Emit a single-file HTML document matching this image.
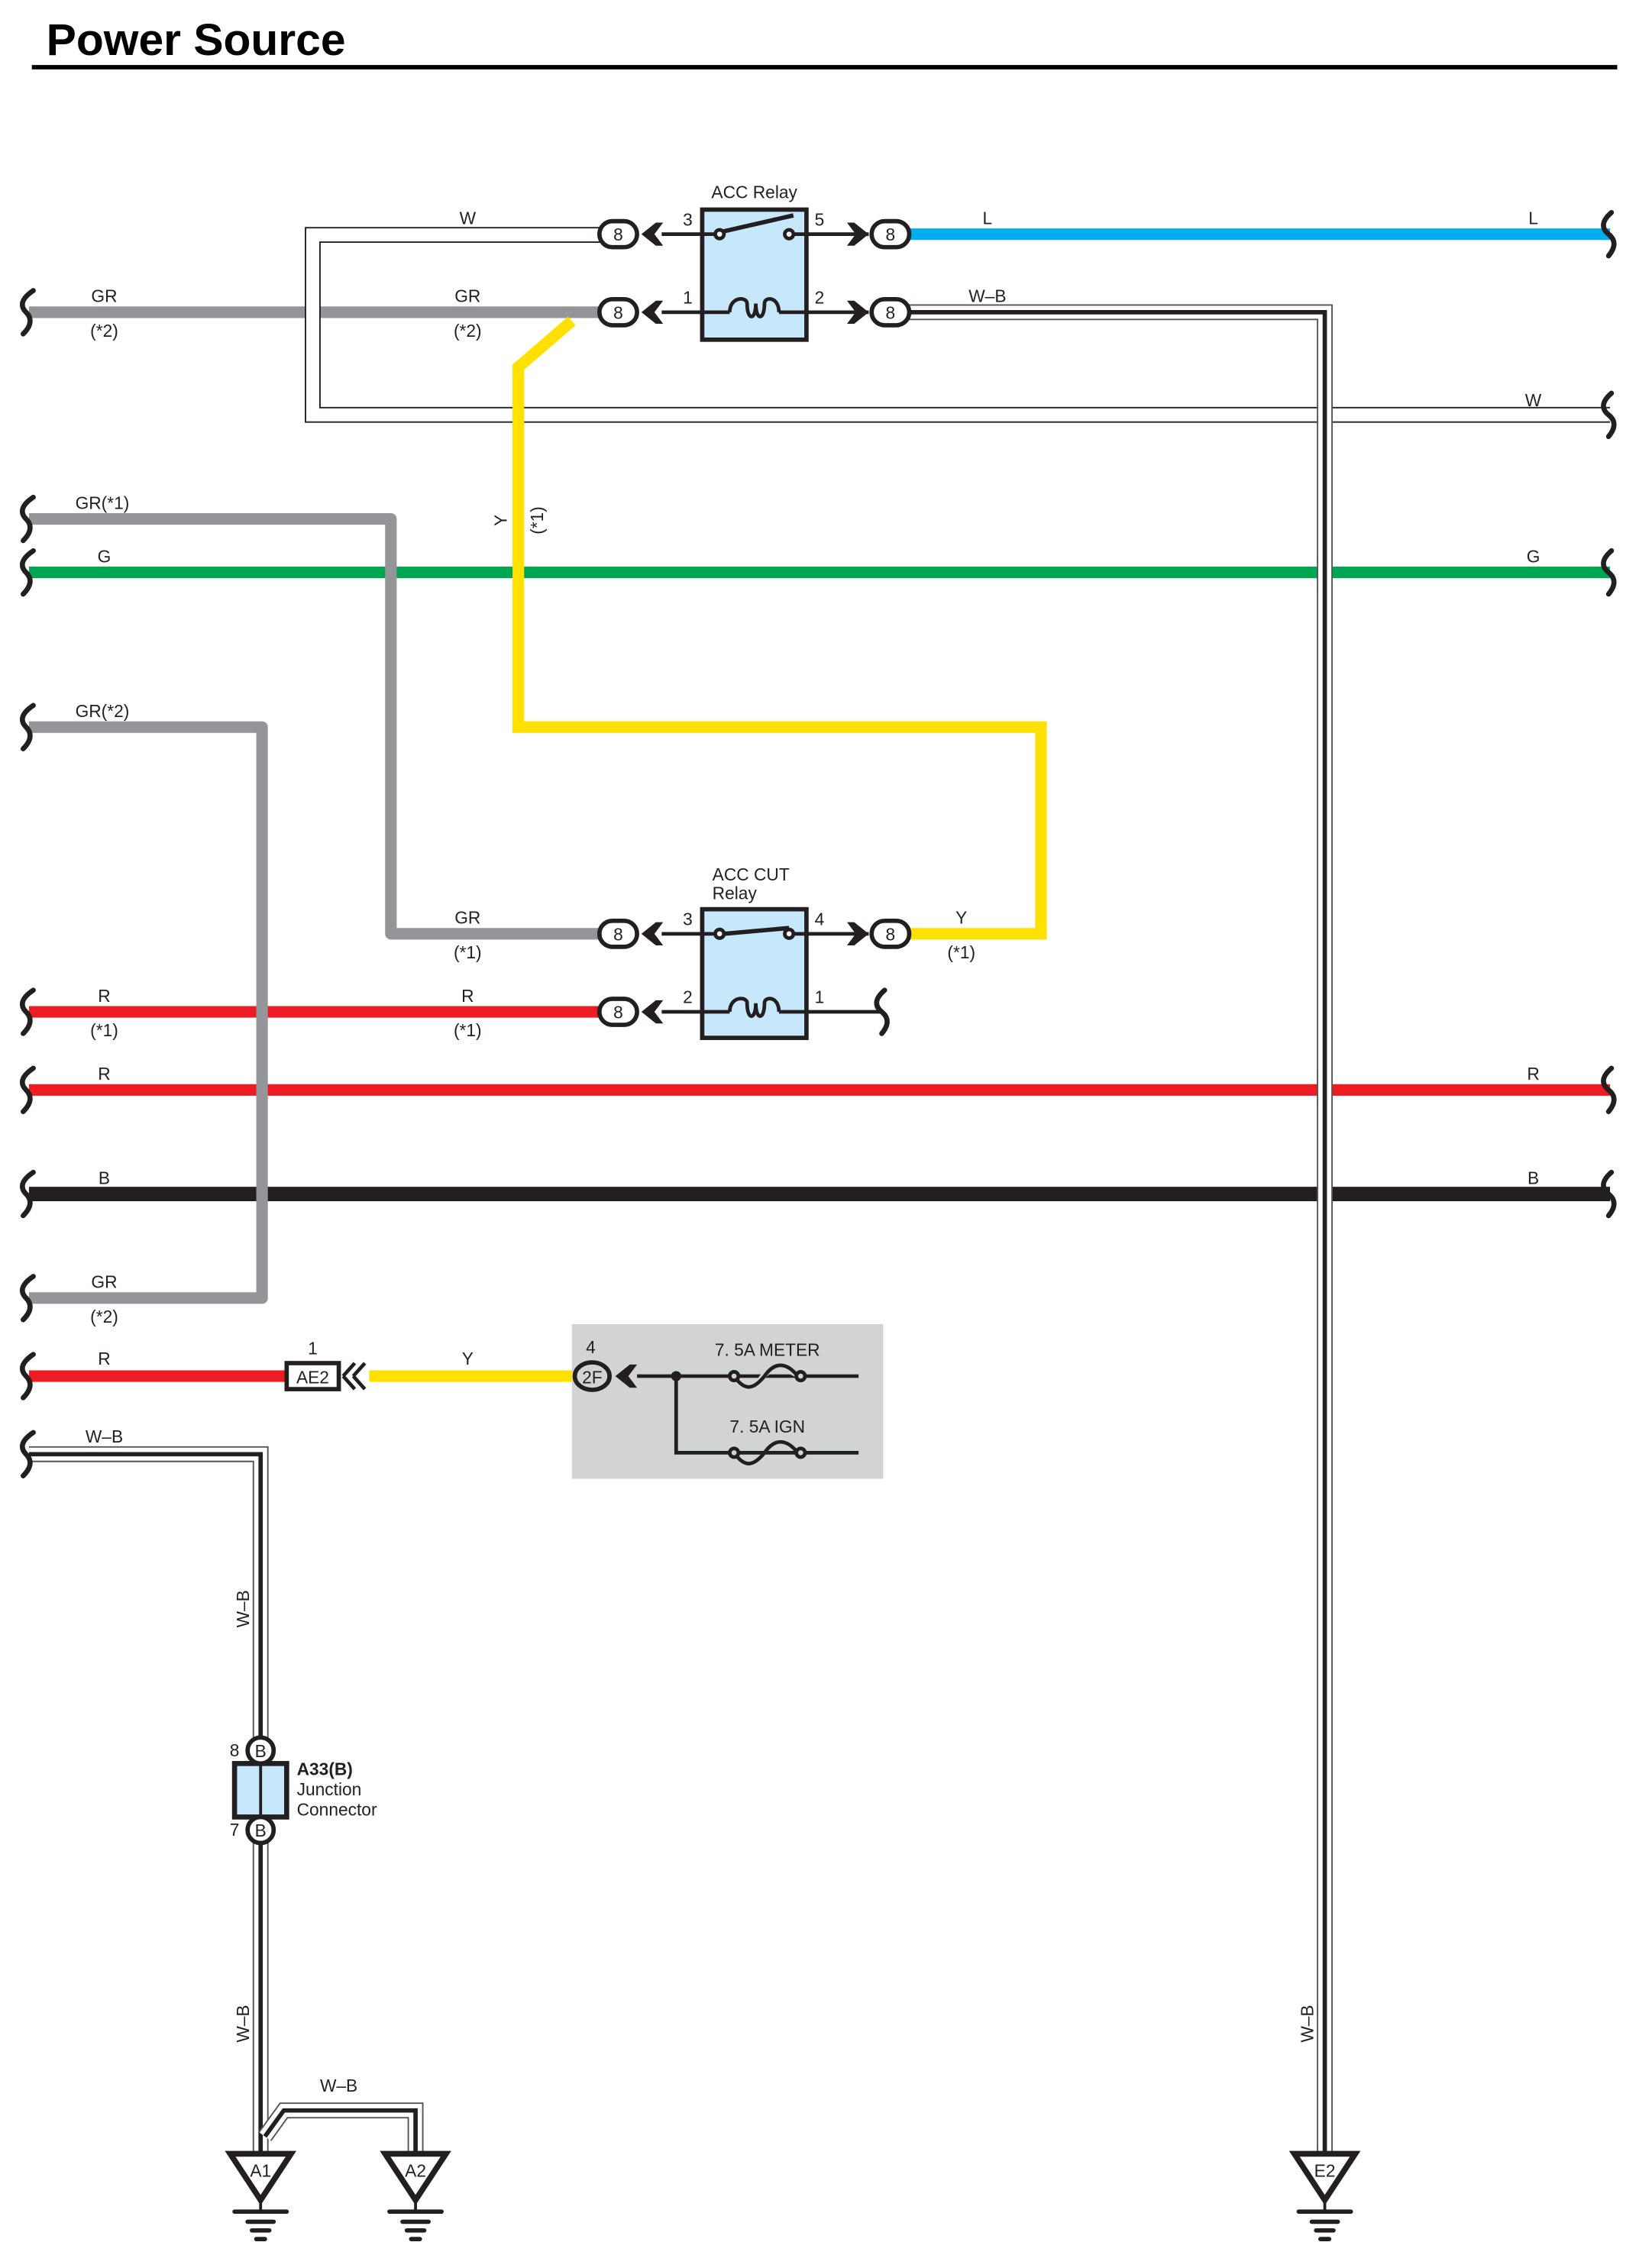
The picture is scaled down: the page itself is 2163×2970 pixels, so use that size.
<!DOCTYPE html>
<html><head><meta charset="utf-8"><style>
html,body{margin:0;padding:0;background:#fff}
svg{display:block}
text{font-family:"Liberation Sans",sans-serif;fill:#231f20}
</style></head><body>
<svg width="2163" height="2970" viewBox="0 0 1141 1569" preserveAspectRatio="none" xmlns="http://www.w3.org/2000/svg">
<defs>
<g id="brkL"><path d="M23,-15 C14,-9 14,-4 18,0 C22,4 22,9 16,15" fill="none" stroke="#231f20" stroke-width="3.5" stroke-linecap="round"/></g>
<g id="brkR"><path d="M-2,-15 C-9,-9 -9,-4 -4,0 C1,4 1,9 -4,15" fill="none" stroke="#231f20" stroke-width="3.5" stroke-linecap="round"/></g>
<g id="conn"><rect x="-13" y="-9" width="26" height="18" rx="9" fill="#fff" stroke="#231f20" stroke-width="3"/><text x="0" y="4.5" font-size="12" text-anchor="middle">8</text></g>
<g id="chevL"><path d="M0,0 L10,-8 L15,-8 L9,0 L15,8 L10,8 Z" fill="#231f20"/></g>
<g id="chevR"><path d="M0,0 L-10,-8 L-15,-8 L-9,0 L-15,8 L-10,8 Z" fill="#231f20"/></g>
<g id="gnd"><path d="M-21,0 L21,0 L0,32 Z" fill="#fff" stroke="#231f20" stroke-width="4" stroke-linejoin="miter"/><line x1="0" y1="32" x2="0" y2="39" stroke="#231f20" stroke-width="2"/><line x1="-18" y1="40" x2="18" y2="40" stroke="#231f20" stroke-width="3" stroke-linecap="round"/><line x1="-9" y1="47" x2="9" y2="47" stroke="#231f20" stroke-width="3" stroke-linecap="round"/><line x1="-6" y1="53" x2="6" y2="53" stroke="#231f20" stroke-width="3" stroke-linecap="round"/><line x1="-3" y1="59" x2="3" y2="59" stroke="#231f20" stroke-width="3" stroke-linecap="round"/></g>
</defs>

<text x="32" y="38" font-size="31" font-weight="bold" style="fill:#000">Power Source</text>
<line x1="22" y1="46.5" x2="1117" y2="46.5" stroke="#000" stroke-width="3"/>

<line x1="20" y1="216" x2="415" y2="216" stroke="#939598" stroke-width="8"/>
<path d="M415,162.5 H216 V287 H1112" fill="none" stroke="#231f20" stroke-width="11"/>
<path d="M415,162.5 H216 V287 H1112" fill="none" stroke="#fff" stroke-width="9"/>
<line x1="628" y1="162" x2="1112" y2="162" stroke="#00aeef" stroke-width="8"/>
<line x1="20" y1="396" x2="1112" y2="396" stroke="#00a651" stroke-width="8"/>
<path d="M20,359 H270 V646 H415" fill="none" stroke="#939598" stroke-width="8" stroke-linejoin="round"/>
<path d="M395,222 L358,254 V503 H719 V646 H628" fill="none" stroke="#ffe000" stroke-width="8"/>
<line x1="20" y1="700" x2="415" y2="700" stroke="#ed1c24" stroke-width="8"/>
<line x1="20" y1="754" x2="1112" y2="754" stroke="#ed1c24" stroke-width="8"/>
<line x1="20" y1="826" x2="1112" y2="826" stroke="#231f20" stroke-width="10"/>
<path d="M20,503 H181 V898 H20" fill="none" stroke="#939598" stroke-width="8" stroke-linejoin="round"/>
<line x1="20" y1="952" x2="198" y2="952" stroke="#ed1c24" stroke-width="8"/>
<line x1="255" y1="952" x2="397" y2="952" stroke="#ffe000" stroke-width="8"/>

<g fill="none" stroke-linejoin="miter">
<path d="M628,216 H915 V1490" stroke="#555" stroke-width="11"/>
<path d="M628,216 H915 V1490" stroke="#fff" stroke-width="9"/>
<path d="M628,216 H915 V1490" stroke="#231f20" stroke-width="3"/>
<path d="M20,1006 H180 V1490" stroke="#555" stroke-width="11"/>
<path d="M20,1006 H180 V1490" stroke="#fff" stroke-width="9"/>
<path d="M20,1006 H180 V1490" stroke="#231f20" stroke-width="3"/>
<path d="M183,1478 L196,1460 H287 V1490" stroke="#555" stroke-width="11"/>
<path d="M183,1478 L196,1460 H287 V1490" stroke="#fff" stroke-width="9"/>
<path d="M183,1478 L196,1460 H287 V1490" stroke="#231f20" stroke-width="3"/>
</g>

<use href="#brkL" x="0" y="216"/><use href="#brkL" x="0" y="359"/><use href="#brkL" x="0" y="396"/>
<use href="#brkL" x="0" y="503"/><use href="#brkL" x="0" y="700"/><use href="#brkL" x="0" y="754"/>
<use href="#brkL" x="0" y="826"/><use href="#brkL" x="0" y="898"/><use href="#brkL" x="0" y="952"/>
<use href="#brkL" x="0" y="1006"/>
<use href="#brkR" x="1115" y="162"/><use href="#brkR" x="1115" y="287"/><use href="#brkR" x="1115" y="396"/>
<use href="#brkR" x="1115" y="754"/><use href="#brkR" x="1115" y="826"/><use href="#brkR" x="613" y="700"/>

<g stroke="#231f20" stroke-width="2.5" fill="none">
<line x1="457" y1="162" x2="497" y2="162"/><line x1="545" y1="162" x2="600" y2="162"/>
<line x1="457" y1="216" x2="505" y2="216"/><line x1="535" y1="216" x2="600" y2="216"/>
<line x1="457" y1="646" x2="497" y2="646"/><line x1="545" y1="646" x2="600" y2="646"/>
<line x1="457" y1="700" x2="505" y2="700"/><line x1="535" y1="700" x2="610" y2="700"/>
</g>
<rect x="485" y="145" width="72" height="90" fill="#c7e8fa" stroke="#231f20" stroke-width="3"/>
<g stroke="#231f20" stroke-width="2.5" fill="none">
<line x1="485" y1="216" x2="504" y2="216"/><line x1="538" y1="216" x2="557" y2="216"/>
<path d="M504,216 C504,205 516,205 516,210 C516,222 522,222 522,210 C522,222 528,222 528,210 C528,205 538,205 538,216"/>
<line x1="485" y1="162" x2="494" y2="162"/><line x1="548" y1="162" x2="557" y2="162"/>
<line x1="500" y1="160" x2="548" y2="149" stroke-width="3"/>
<circle cx="497" cy="162" r="3" fill="#fff"/><circle cx="545" cy="162" r="3" fill="#fff"/>
</g>
<text x="521" y="137" font-size="12" text-anchor="middle">ACC Relay</text>
<text x="475" y="156" font-size="12" text-anchor="middle">3</text>
<text x="566" y="156" font-size="12" text-anchor="middle">5</text>
<text x="475" y="210" font-size="12" text-anchor="middle">1</text>
<text x="566" y="210" font-size="12" text-anchor="middle">2</text>

<rect x="485" y="629" width="72" height="89" fill="#c7e8fa" stroke="#231f20" stroke-width="3"/>
<g stroke="#231f20" stroke-width="2.5" fill="none">
<line x1="485" y1="700" x2="504" y2="700"/><line x1="538" y1="700" x2="557" y2="700"/>
<path d="M504,700 C504,689 516,689 516,694 C516,706 522,706 522,694 C522,706 528,706 528,694 C528,689 538,689 538,700"/>
<line x1="485" y1="646" x2="494" y2="646"/><line x1="548" y1="646" x2="557" y2="646"/>
<line x1="500" y1="646" x2="545" y2="642" stroke-width="3"/>
<circle cx="497" cy="646" r="3" fill="#fff"/><circle cx="545" cy="646" r="3" fill="#fff"/>
</g>
<text x="492" y="609" font-size="12">ACC CUT</text>
<text x="492" y="622" font-size="12">Relay</text>
<text x="475" y="640" font-size="12" text-anchor="middle">3</text>
<text x="566" y="640" font-size="12" text-anchor="middle">4</text>
<text x="475" y="694" font-size="12" text-anchor="middle">2</text>
<text x="566" y="694" font-size="12" text-anchor="middle">1</text>

<use href="#chevL" x="443" y="162"/><use href="#conn" x="427" y="162"/>
<use href="#chevL" x="443" y="216"/><use href="#conn" x="427" y="216"/>
<use href="#chevR" x="600" y="162"/><use href="#conn" x="615" y="162"/>
<use href="#chevR" x="600" y="216"/><use href="#conn" x="615" y="216"/>
<use href="#chevL" x="443" y="646"/><use href="#conn" x="427" y="646"/>
<use href="#chevL" x="443" y="700"/><use href="#conn" x="427" y="700"/>
<use href="#chevR" x="600" y="646"/><use href="#conn" x="615" y="646"/>

<g font-size="12" text-anchor="middle">
<text x="323" y="155">W</text>
<text x="72" y="209">GR</text><text x="72" y="233">(*2)</text>
<text x="323" y="209">GR</text><text x="323" y="233">(*2)</text>
<text x="682" y="155">L</text><text x="1059" y="155">L</text>
<text x="682" y="209">W–B</text><text x="1059" y="281">W</text>
<text x="72" y="389">G</text><text x="1059" y="389">G</text>
<text x="323" y="639">GR</text><text x="323" y="663">(*1)</text>
<text x="664" y="639">Y</text><text x="664" y="663">(*1)</text>
<text x="72" y="693">R</text><text x="72" y="717">(*1)</text>
<text x="323" y="693">R</text><text x="323" y="717">(*1)</text>
<text x="72" y="747">R</text><text x="1059" y="747">R</text>
<text x="72" y="819">B</text><text x="1059" y="819">B</text>
<text x="72" y="891">GR</text><text x="72" y="915">(*2)</text>
<text x="72" y="944">R</text><text x="323" y="944">Y</text>
<text x="72" y="998">W–B</text>
<text x="234" y="1447">W–B</text>
</g>
<text x="52" y="352" font-size="12">GR(*1)</text>
<text x="52" y="496" font-size="12">GR(*2)</text>
<text font-size="12" text-anchor="middle" transform="translate(350,360) rotate(-90)">Y</text>
<text font-size="12" text-anchor="middle" transform="translate(375,360) rotate(-90)">(*1)</text>
<text font-size="12" text-anchor="middle" transform="translate(172,1113) rotate(-90)">W–B</text>
<text font-size="12" text-anchor="middle" transform="translate(172,1400) rotate(-90)">W–B</text>
<text font-size="12" text-anchor="middle" transform="translate(907,1400) rotate(-90)">W–B</text>

<rect x="198" y="943" width="36" height="18" fill="#fff" stroke="#231f20" stroke-width="3"/>
<text x="216" y="957" font-size="12" text-anchor="middle">AE2</text>
<text x="216" y="937" font-size="12" text-anchor="middle">1</text>
<path d="M237,952 L245,943 M237,952 L245,961 M244,952 L252,943 M244,952 L252,961" stroke="#231f20" stroke-width="2.5" fill="none"/>

<rect x="395" y="916" width="215" height="107" fill="#d1d3d4"/>
<line x1="440" y1="952" x2="593" y2="952" stroke="#231f20" stroke-width="2.5"/>
<path d="M467,952 V1005 H593" fill="none" stroke="#231f20" stroke-width="2.5"/>
<circle cx="467" cy="952" r="3.5" fill="#231f20"/>
<g fill="none" stroke="#231f20" stroke-width="2.5">
<path d="M505,952 C512,960 518,962 525,955 C530,946 540,944 552,952" stroke="#d1d3d4" stroke-width="4"/>
<path d="M507,952 C514,962 520,962 528,952 C535,942 543,942 551,952"/>
<path d="M507,1005 C514,1015 520,1015 528,1005 C535,995 543,995 551,1005"/>
<circle cx="507" cy="952" r="3" fill="#d1d3d4"/><circle cx="553" cy="952" r="3" fill="#d1d3d4"/>
<circle cx="507" cy="1005" r="3" fill="#d1d3d4"/><circle cx="553" cy="1005" r="3" fill="#d1d3d4"/>
</g>
<text x="530" y="938" font-size="12" text-anchor="middle">7. 5A METER</text>
<text x="530" y="991" font-size="12" text-anchor="middle">7. 5A IGN</text>
<path d="M425,952 L435,944 L440,944 L434,952 L440,960 L435,960 Z" fill="#231f20"/>
<ellipse cx="409" cy="952" rx="12" ry="9.5" fill="#d1d3d4" stroke="#231f20" stroke-width="3"/>
<text x="409" y="957" font-size="12" text-anchor="middle">2F</text>
<text x="408" y="936" font-size="12" text-anchor="middle">4</text>

<rect x="162" y="1220" width="36" height="37" fill="#c7e8fa" stroke="#231f20" stroke-width="3.5"/>
<line x1="180" y1="1220" x2="180" y2="1257" stroke="#231f20" stroke-width="2"/>
<circle cx="180" cy="1211" r="9" fill="#fff" stroke="#231f20" stroke-width="3"/>
<text x="180" y="1215.5" font-size="12" text-anchor="middle">B</text>
<circle cx="180" cy="1266" r="9" fill="#fff" stroke="#231f20" stroke-width="3"/>
<text x="180" y="1270.5" font-size="12" text-anchor="middle">B</text>
<text x="162" y="1215" font-size="12" text-anchor="middle">8</text>
<text x="162" y="1270" font-size="12" text-anchor="middle">7</text>
<text x="205" y="1228" font-size="12" font-weight="bold">A33(B)</text>
<text x="205" y="1242" font-size="12">Junction</text>
<text x="205" y="1256" font-size="12">Connector</text>

<use href="#gnd" x="180" y="1490"/><use href="#gnd" x="287" y="1490"/><use href="#gnd" x="915" y="1490"/>
<text x="180" y="1506" font-size="12" text-anchor="middle">A1</text>
<text x="287" y="1506" font-size="12" text-anchor="middle">A2</text>
<text x="915" y="1506" font-size="12" text-anchor="middle">E2</text>
</svg>
</body></html>
